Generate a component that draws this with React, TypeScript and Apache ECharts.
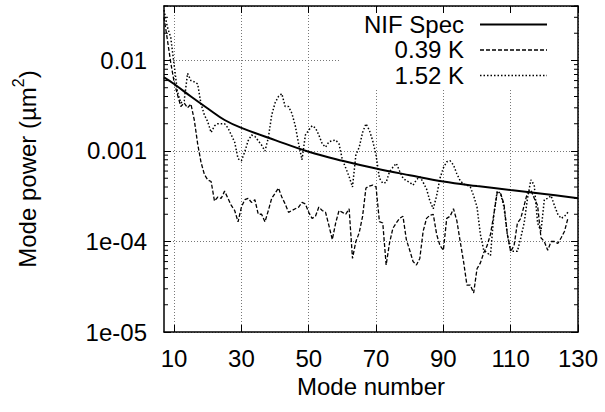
import React, { useEffect, useRef } from 'react';
import * as echarts from 'echarts';

const FONT = '"Liberation Sans", Arial, Helvetica, sans-serif';

const xMin = 7;
const xMax = 130;
const yMin = 1e-5;
const yMax = 0.04;
const xTickValues = [10, 30, 50, 70, 90, 110, 130];
const yTickValues = [1e-5, 1e-4, 1e-3, 1e-2];
const yTickLabels = ['1e-05', '1e-04', '0.001', '0.01'];
const minorTickValues = [
  2e-5, 3e-5, 4e-5, 5e-5, 6e-5, 7e-5, 8e-5, 9e-5,
  2e-4, 3e-4, 4e-4, 5e-4, 6e-4, 7e-4, 8e-4, 9e-4,
  2e-3, 3e-3, 4e-3, 5e-3, 6e-3, 7e-3, 8e-3, 9e-3,
  2e-2, 3e-2, 4e-2,
];

const seriesNames = ['NIF Spec', '0.39 K', '1.52 K'];

// NIF specification curve (mode, power)
const nifModes = [7, 10, 15, 20, 25, 30, 40, 50, 60, 70, 80, 90, 100, 110, 120, 130];
const nifPower = [
  0.0065, 0.0055, 0.004, 0.00295, 0.0022, 0.0018, 0.00132, 0.00098,
  0.00078, 0.00064, 0.00054, 0.00046, 0.00041, 0.00037, 0.000335, 0.0003,
];

// measured spectra, one value per mode starting at mode 7
const firstMode = 7;
const power039 = [
  0.03, 0.017, 0.0095, 0.0058, 0.0042, 0.0031, 0.0034, 0.003, 0.0033, 0.0022,
  0.0012, 0.00075, 0.00055, 0.00048, 0.00046, 0.00028, 0.00031, 0.0003, 0.00036, 0.0003,
  0.00025, 0.00022, 0.000165, 0.00024, 0.00029, 0.0003, 0.00027, 0.00029, 0.0002, 0.0002,
  0.000165, 0.00022, 0.0003, 0.00034, 0.00039, 0.00031, 0.00026, 0.00021, 0.00022, 0.00023,
  0.00024, 0.00027, 0.00026, 0.00021, 0.00018, 0.00019, 0.00024, 0.00022, 0.00021, 0.00015,
  0.000105, 0.00016, 0.00022, 0.00021, 0.0002, 0.00023, 0.000065, 0.0001, 0.000125, 0.00019,
  0.00039, 0.00041, 0.00042, 0.0004, 0.000166, 0.00016, 0.000055, 0.000096, 0.00014, 0.00016,
  0.00018, 0.00019, 0.000105, 0.00008, 0.00006, 0.000055, 0.000065, 0.00013, 0.00018, 0.000195,
  0.0002, 0.00012, 0.00009, 0.00008, 0.00018, 0.00019, 0.00023, 0.00017, 0.0001, 0.00006,
  0.000033, 0.000033, 0.000027, 0.00005, 0.000058, 0.000075, 0.00009, 0.00012, 0.0002, 0.00035,
  0.00034, 0.00026, 0.00012, 0.000078, 0.00009, 0.00016, 0.00018, 0.00025, 0.00035, 0.00037,
  0.0003, 0.00025, 0.00011, 0.0001, 0.00008, 0.0001, 0.0001, 0.000095, 0.00011, 0.00013,
  0.00018,
];
const power152 = [
  0.036, 0.0235, 0.018, 0.009, 0.0045, 0.0034, 0.0036, 0.0072, 0.006, 0.0058,
  0.0055, 0.0033, 0.0025, 0.0021, 0.0016, 0.0019, 0.002, 0.002, 0.002, 0.0018,
  0.0015, 0.00125, 0.00082, 0.00078, 0.00098, 0.0013, 0.0015, 0.00145, 0.0013, 0.00116,
  0.001, 0.0014, 0.0025, 0.0034, 0.004, 0.0043, 0.0031, 0.0031, 0.0026, 0.0019,
  0.0012, 0.0008, 0.0015, 0.0017, 0.0019, 0.0018, 0.0015, 0.0012, 0.0011, 0.00126,
  0.0013, 0.00132, 0.0012, 0.0008, 0.00065, 0.00052, 0.0004, 0.0009, 0.0011, 0.0016,
  0.002, 0.0017, 0.0013, 0.0009, 0.0005, 0.00044, 0.00045, 0.00059, 0.00066, 0.00073,
  0.0006, 0.0005, 0.00047, 0.00045, 0.00042, 0.00048, 0.00052, 0.00045, 0.00038, 0.00028,
  0.00023, 0.00032, 0.0005, 0.00065, 0.00076, 0.00078, 0.0007, 0.00056, 0.00047, 0.00043,
  0.00042, 0.0004, 0.00032, 0.00024, 0.00012, 0.00008, 0.000075, 0.00007, 0.0002, 0.00036,
  0.00034, 0.00024, 0.00012, 0.000078, 0.000078, 0.000078, 0.00011, 0.00016, 0.0003, 0.00048,
  0.00042, 0.00016, 0.00013, 0.00029, 0.0003, 0.00032, 0.00025, 0.0002, 0.00018, 0.00019,
  0.00021,
];

const frameLine = { show: true, onZero: false, lineStyle: { color: '#000', width: 1.5 } };
const gridLine = { show: true, lineStyle: { color: '#777', width: 1, type: [1, 2] as number[] } };

function yLabel(v: number): string {
  const i = yTickValues.findIndex((t) => Math.abs(Math.log10(v) - Math.log10(t)) < 1e-6);
  return i >= 0 ? yTickLabels[i] : '';
}

export default function App() {
  const ref = useRef<HTMLDivElement>(null);
  useEffect(() => {
    const chart = echarts.init(ref.current!, null, { renderer: 'svg' });
    const legendX = 464;
    const legendYs = [24, 49.5, 75];
    const legendDash: (number[] | null)[] = [null, [4, 2], [1.5, 2]];
    const legendWidth = [2, 1.3, 1.5];
    const graphic: any[] = [
      { type: 'rect', z: 100, shape: { x: 339, y: 13, width: 232, height: 77 }, style: { fill: '#fff' } },
    ];
    seriesNames.forEach((n, i) => {
      graphic.push({
        type: 'text', z: 101, x: legendX, y: legendYs[i],
        style: {
          text: n, fill: '#000', fontSize: 24, fontFamily: FONT,
          align: 'right', verticalAlign: 'middle', textAlign: 'right', textVerticalAlign: 'middle',
        },
      });
      graphic.push({
        type: 'line', z: 101,
        shape: { x1: 480, y1: legendYs[i] + 0.5, x2: 547, y2: legendYs[i] + 0.5 },
        style: { stroke: '#000', lineWidth: legendWidth[i], lineDash: legendDash[i] || undefined },
      });
    });

    const option: any = {
      animation: false,
      backgroundColor: '#fff',
      textStyle: { fontFamily: FONT, color: '#000' },
      grid: { left: 164, right: 27, top: 6, bottom: 80, outerBoundsMode: 'none' },
      xAxis: [
        {
          type: 'value', min: xMin, max: xMax, position: 'bottom',
          axisLine: frameLine,
          axisTick: { show: true, inside: true, length: 7, customValues: xTickValues, lineStyle: { color: '#000', width: 1 } },
          axisLabel: { customValues: xTickValues, fontSize: 24, color: '#000', margin: 14, fontFamily: FONT },
          splitLine: gridLine,
          name: 'Mode number', nameLocation: 'middle', nameGap: 40,
          nameTextStyle: { fontSize: 24, color: '#000', fontFamily: FONT },
        },
        {
          type: 'value', min: xMin, max: xMax, position: 'top',
          axisLine: frameLine,
          axisTick: { show: true, inside: true, length: 7, customValues: xTickValues, lineStyle: { color: '#000', width: 1 } },
          axisLabel: { show: false },
          splitLine: { show: false },
        },
      ],
      yAxis: [
        {
          type: 'log', logBase: 10, min: yMin, max: yMax, position: 'left',
          axisLine: frameLine,
          axisTick: { show: true, inside: true, length: 7, lineStyle: { color: '#000', width: 1 } },
          axisLabel: { formatter: yLabel, fontSize: 24, color: '#000', margin: 17, fontFamily: FONT, showMaxLabel: false },
          splitLine: gridLine,
          name: 'Mode power (µm{sup|2})', nameLocation: 'middle', nameGap: 120, nameRotate: 90,
          nameTextStyle: {
            fontSize: 24, color: '#000', fontFamily: FONT, lineHeight: 34,
            rich: { sup: { fontSize: 16, lineHeight: 16, verticalAlign: 'top', fontFamily: FONT, color: '#000' } },
          },
        },
        {
          type: 'log', logBase: 10, min: yMin, max: yMax, position: 'right',
          axisLine: frameLine,
          axisTick: { show: true, inside: true, length: 7, lineStyle: { color: '#000', width: 1 } },
          axisLabel: { show: false },
          splitLine: { show: false },
        },
      ],
      graphic,
      series: [
        {
          name: seriesNames[0], type: 'line', xAxisIndex: 0, yAxisIndex: 0,
          data: nifModes.map((m, i) => [m, nifPower[i]]),
          smooth: 0.4, symbol: 'none', z: 4,
          lineStyle: { color: '#000', width: 2 },
        },
        {
          name: seriesNames[1], type: 'line', xAxisIndex: 0, yAxisIndex: 0,
          data: power039.map((v, i) => [firstMode + i, v]),
          symbol: 'none', z: 3,
          lineStyle: { color: '#000', width: 1.3, type: [4, 2] },
        },
        {
          name: seriesNames[2], type: 'line', xAxisIndex: 0, yAxisIndex: 0,
          data: power152.map((v, i) => [firstMode + i, v]),
          symbol: 'none', z: 3,
          lineStyle: { color: '#000', width: 1.5, type: [1.5, 2] },
        },
        {
          type: 'custom', xAxisIndex: 0, yAxisIndex: 0, silent: true, z: 5,
          data: minorTickValues.map((v) => [xMin, v]),
          renderItem: (_params: any, api: any) => {
            const v = api.value(1);
            const pl = api.coord([xMin, v]);
            const pr = api.coord([xMax, v]);
            return {
              type: 'group',
              children: [
                { type: 'line', shape: { x1: pl[0], y1: pl[1], x2: pl[0] + 4, y2: pl[1] }, style: { stroke: '#000', lineWidth: 1 } },
                { type: 'line', shape: { x1: pr[0] - 4, y1: pr[1], x2: pr[0], y2: pr[1] }, style: { stroke: '#000', lineWidth: 1 } },
              ],
            };
          },
        },
      ],
    };
    chart.setOption(option);
    return () => chart.dispose();
  }, []);
  return (
    <div
      ref={ref}
      style={{ position: 'fixed', left: 0, top: 0, width: 605, height: 412, background: '#fff' }}
    />
  );
}
